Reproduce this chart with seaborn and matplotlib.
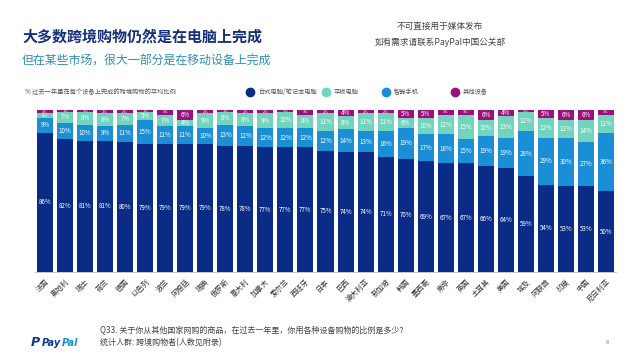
import pandas as pd
import matplotlib.pyplot as plt
import seaborn as sns
from matplotlib.lines import Line2D

# data
countries = ['法国', '奥地利', '瑞士', '荷兰', '德国', '以色列', '波兰', '阿根廷', '瑞典', '俄罗斯',
             '意大利', '加拿大', '爱尔兰', '西班牙', '日本', '巴西', '澳大利亚', '新加坡', '韩国', '墨西哥',
             '南非', '英国', '土耳其', '美国', '埃及', '阿联酋', '印度', '中国', '尼日利亚']
desktop = [86, 82, 81, 81, 80, 79, 79, 79, 79, 78, 78, 77, 77, 77, 75, 74, 74, 71, 70, 69,
           67, 67, 66, 64, 59, 54, 53, 53, 50]
phone = [9, 10, 10, 9, 11, 15, 11, 11, 10, 13, 12, 12, 12, 12, 12, 14, 13, 16, 19, 17,
         18, 15, 19, 19, 28, 29, 30, 27, 36]
tablet = [3, 7, 8, 8, 7, 5, 7, 4, 9, 8, 8, 9, 10, 8, 11, 8, 11, 11, 6, 10,
          12, 15, 10, 13, 12, 12, 11, 14, 11]
other = [2, 1, 1, 2, 2, 1, 3, 6, 2, 1, 2, 2, 1, 3, 2, 4, 2, 2, 5, 5,
         3, 3, 6, 4, 1, 5, 6, 6, 3]

# stacking order bottom -> top
series = ['台式电脑/笔记本电脑', '智能手机', '平板电脑', '其他设备']
colors = {'台式电脑/笔记本电脑': '#0b2c86', '智能手机': '#1b8fd6',
          '平板电脑': '#72d4bc', '其他设备': '#9c0f7f'}
legend_order = ['台式电脑/笔记本电脑', '平板电脑', '智能手机', '其他设备']

df = pd.DataFrame({'country': countries, series[0]: desktop, series[1]: phone,
                   series[2]: tablet, series[3]: other})

# bars in the reference all reach the top, so scale each row to 100
vals = df[series]
scaled = vals.div(vals.sum(axis=1), axis=0) * 100
cum = scaled.cumsum(axis=1)

sns.set_style('white')
plt.rcParams['font.family'] = ['Noto Sans CJK SC', 'DejaVu Sans']

fig = plt.figure(figsize=(6.4, 3.6), dpi=100)
ax = fig.add_axes([35/640, 1 - 272/360, 581/640, 162/360])

# draw the tallest stack first so lower segments sit on top
for s in reversed(series):
    sns.barplot(x=df['country'], y=cum[s], color=colors[s], width=0.8, ax=ax,
                saturation=1, order=countries, linewidth=0)

for i in range(len(countries)):
    bottom = 0
    for s in series:
        h = scaled[s].iloc[i]
        fs = 4.5 if h >= 4 else 2.8   # thin slices get tiny labels
        ax.text(i, bottom + h / 2, f"{vals[s].iloc[i]}%", ha='center', va='center',
                color='white', fontsize=fs)
        bottom += h

ax.set_ylim(0, 100)
ax.set_xlim(-0.5, len(countries) - 0.5)
ax.set_xlabel('')
ax.set_ylabel('')
ax.set_yticks([])
for sp in ['top', 'right', 'left']:
    ax.spines[sp].set_visible(False)
ax.spines['bottom'].set_color('#bbbbbb')
ax.spines['bottom'].set_linewidth(0.6)
ax.set_xticks(range(len(countries)))
ax.set_xticklabels(countries, rotation=45, ha='right', rotation_mode='anchor',
                   fontsize=5.2, color='#333333')
ax.tick_params(axis='x', which='major', length=0, pad=4)
ax.set_xticks([i + 0.5 for i in range(-1, len(countries))], minor=True)
ax.tick_params(axis='x', which='minor', length=2.5, width=0.5, color='#bbbbbb')

# titles
fig.text(22/640, 1 - 37/360, '大多数跨境购物仍然是在电脑上完成', fontsize=10.8,
         fontweight='bold', color='#15307c', va='center')
fig.text(22/640, 1 - 61/360, '但在某些市场，很大一部分是在移动设备上完成', fontsize=8.6,
         color='#2f8fb6', va='center')
fig.text(440/640, 1 - 26/360, '不可直接用于媒体发布', fontsize=6.2, color='#444444',
         ha='center', va='center')
fig.text(440/640, 1 - 42/360, '如有需求请联系PayPal中国公关部', fontsize=6.2, color='#444444',
         ha='center', va='center')

fig.text(25/640, 1 - 92/360, '% 过去一年里在每个设备上完成的跨境购物的平均比例', fontsize=4.5,
         color='#555555', va='center')

# legend
leg_x = [250, 326, 386, 455]
for x, s in zip(leg_x, legend_order):
    fig.add_artist(Line2D([x/640], [1 - 92/360], marker='o', markersize=6, color=colors[s],
                          linestyle='', transform=fig.transFigure))
    fig.text((x + 8)/640, 1 - 92/360, s, fontsize=4.5, color='#555555', va='center')

# footer
fig.text(100/640, 1 - 330/360, 'Q33. 关于你从其他国家网购的商品，在过去一年里，你用各种设备购物的比例是多少？',
         fontsize=5.8, color='#444444', va='center')
fig.text(100/640, 1 - 343/360, '统计人群: 跨境购物者(人数见附录)', fontsize=5.8,
         color='#444444', va='center')
fig.text(31/640, 1 - 342/360, 'P', fontsize=9, fontweight='bold', style='italic',
         color='#0a3a8c', va='center', family='DejaVu Sans')
fig.text(42/640, 1 - 343/360, 'Pay', fontsize=7, fontweight='bold', style='italic',
         color='#0a3a8c', va='center', family='DejaVu Sans')
fig.text(62/640, 1 - 343/360, 'Pal', fontsize=7, fontweight='bold', style='italic',
         color='#1b8fd6', va='center', family='DejaVu Sans')
fig.text(606/640, 1 - 343/360, '8', fontsize=4, color='#888888', va='center')

fig.savefig('out.png', dpi=100)
